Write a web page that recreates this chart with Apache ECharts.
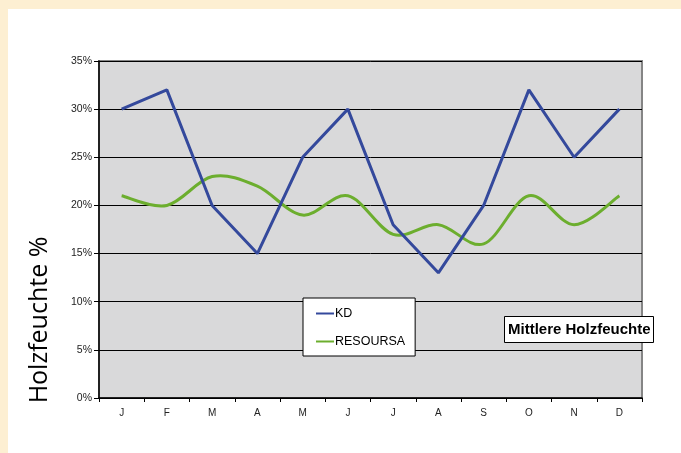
<!DOCTYPE html>
<html><head><meta charset="utf-8">
<script src="https://cdn.jsdelivr.net/npm/echarts@6/dist/echarts.min.js"></script>
<style>html,body{margin:0;padding:0;background:#fdefd2;}#c{width:681px;height:453px;}</style>
</head><body><div id="c"></div>
<script>
const months = ['J','F','M','A','M','J','J','A','S','O','N','D'];
const kd = [30,32,20,15,25,30,18,13,20,32,25,30];
const resoursa = [21,20,23,22,19,21,17,18,16,21,18,21];
const yTicks = [0,5,10,15,20,25,30,35];

const GREEN = '#6cae2e', BLUE = '#34499c';

function smoothPath(api) {
  const p = resoursa.map((v, i) => api.coord([i, v]));
  const n = p.length;
  let d = 'M' + p[0][0] + ' ' + p[0][1];
  for (let i = 0; i < n - 1; i++) {
    const p0 = p[Math.max(i - 1, 0)], p1 = p[i], p2 = p[i + 1], p3 = p[Math.min(i + 2, n - 1)];
    const c1x = p1[0] + (p2[0] - p0[0]) / 6, c1y = p1[1] + (p2[1] - p0[1]) / 6;
    const c2x = p2[0] - (p3[0] - p1[0]) / 6, c2y = p2[1] - (p3[1] - p1[1]) / 6;
    d += ' C' + c1x + ' ' + c1y + ' ' + c2x + ' ' + c2y + ' ' + p2[0] + ' ' + p2[1];
  }
  return d;
}

const chart = echarts.init(document.getElementById('c'));
chart.setOption({
  backgroundColor: '#fdefd2',
  animation: false,
  graphic: [
    {type:'rect', left: 8, top: 9, shape:{width: 673, height: 444}, style:{fill:'#ffffff'}, z: -10},
    {type:'text', x: 40, y: 320, rotation: Math.PI/2, style:{text:'Holzfeuchte %', fontFamily:'Open Sans', fontSize: 25, fill:'#000', align:'center', verticalAlign:'middle'}}
  ],
  grid: {left: 99, top: 61, right: 39, bottom: 55, show: true, backgroundColor: '#d9d9da', borderColor: '#858585', borderWidth: 2},
  title: {text: 'Mittlere Holzfeuchte', left: 504, top: 316, padding: [5, 3, 5, 4], backgroundColor: '#fff', borderColor: '#000', borderWidth: 1,
    textStyle: {fontFamily: 'Liberation Sans', fontWeight: 'bold', fontSize: 15, lineHeight: 17, color: '#000'}},
  legend: {orient: 'vertical', left: 303, top: 298, padding: [9, 10, 8, 13], itemGap: 15, backgroundColor: '#fff', borderColor: '#000', borderWidth: 1,
    icon: 'rect', itemWidth: 18, itemHeight: 2, textStyle: {fontFamily: 'Liberation Sans', fontSize: 12.5, color: '#000', padding: [0,0,0,-4]},
    data: ['KD', 'RESOURSA']},
  xAxis: {type: 'category', data: months, boundaryGap: true,
    axisLine: {lineStyle: {color: '#000', width: 1.5}},
    axisTick: {show: true, alignWithLabel: false, length: 4, lineStyle: {color: '#000'}},
    axisLabel: {fontFamily: 'Liberation Sans', fontSize: 10, color: '#222', margin: 10}},
  yAxis: {type: 'value', min: 0, max: 35, interval: 5,
    axisLine: {show: true, lineStyle: {color: '#000', width: 1.5}},
    axisTick: {show: true, length: 5, lineStyle: {color: '#000'}},
    axisLabel: {formatter: v => v + '%', fontFamily: 'Liberation Sans', fontSize: 10.5, color: '#222', margin: 7},
    splitLine: {lineStyle: {color: '#000', width: 1}}},
  series: [
    {name: 'KD', type: 'line', data: kd, symbol: 'none', lineStyle: {color: BLUE, width: 3}, itemStyle: {color: BLUE}, z: 3},
    {name: 'RESOURSA', type: 'custom', data: resoursa.map((v, i) => [i, v]), encode: {x: 0, y: 1}, clip: false,
      itemStyle: {color: GREEN}, z: 2,
      renderItem: (params, api) => {
        if (params.dataIndex !== 0) return null;
        return {type: 'path', shape: {pathData: smoothPath(api)}, style: {stroke: GREEN, lineWidth: 3, fill: null, lineJoin: 'round'}};
      }}
  ]
});
</script></body></html>
